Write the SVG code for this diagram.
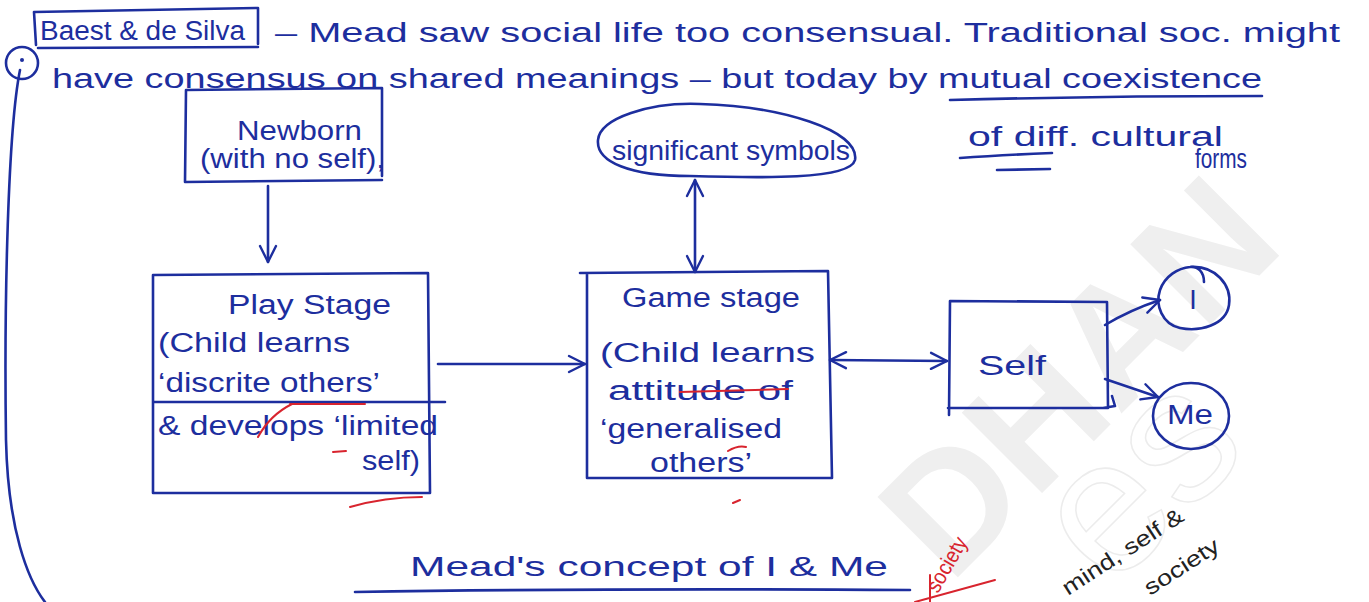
<svg xmlns="http://www.w3.org/2000/svg" width="1369" height="602" viewBox="0 0 1369 602">
  <style>
    .ink { fill: none; stroke: #1d2e9e; stroke-width: 2.6; stroke-linecap: round; stroke-linejoin: round; }
    .red { fill: none; stroke: #d8242e; stroke-width: 2; stroke-linecap: round; }
    .t { font-family: "Liberation Sans", "DejaVu Sans", sans-serif; fill: #1d2e9e; font-size: 27px; }
    .tr { font-family: "Liberation Sans", "DejaVu Sans", sans-serif; fill: #d8242e; font-size: 22px; }
    .tk { font-family: "Liberation Sans", "DejaVu Sans", sans-serif; fill: #222; font-size: 22px; }
    .wm { font-family: "Liberation Sans", "DejaVu Sans", sans-serif; font-weight: bold; fill: #efefef; }
    .wmo { font-family: "Liberation Sans", "DejaVu Sans", sans-serif; fill: none; stroke: #ececec; stroke-width: 1.5; }
  </style>
  <defs>
    <marker id="head" viewBox="0 0 20 20" refX="18" refY="10" markerWidth="20" markerHeight="20" markerUnits="userSpaceOnUse" orient="auto-start-reverse">
      <path d="M2,2 L18,10 L2,18" fill="none" stroke="#1d2e9e" stroke-width="2.4" stroke-linecap="round" stroke-linejoin="round"/>
    </marker>
  </defs>

  <rect width="1369" height="602" fill="#ffffff"/>

  <!-- background watermark -->
  <g id="watermark">
    <text class="wm" x="0" y="0" font-size="165" transform="translate(950,585) rotate(-45)">DHAN</text>
    <text class="wmo" x="0" y="0" font-size="190" transform="translate(1110,592) rotate(-45)">es</text>
  </g>

  <!-- heading note -->
  <g id="heading">
    <path class="ink" d="M34,12 L258,8 L258,44 M34,12 L36,45 M38,48 L258,47"/>
    <text class="t" x="40" y="40" textLength="205" lengthAdjust="spacingAndGlyphs">Baest &amp; de Silva</text>
    <text class="t" x="275" y="42" font-size="28" textLength="1065" lengthAdjust="spacingAndGlyphs">– Mead saw social life too consensual. Traditional soc. might</text>
    <text class="t" x="52" y="88" font-size="28" textLength="1210" lengthAdjust="spacingAndGlyphs">have consensus on shared meanings – but today by mutual coexistence</text>
    <path class="ink" d="M950,100 Q1100,96 1262,96"/>
    <text class="t" x="968" y="146" textLength="255" lengthAdjust="spacingAndGlyphs">of diff. cultural</text>
    <path class="ink" d="M960,158 Q1000,155 1052,153 M997,170 L1050,169"/>
    <text class="t" x="1195" y="168" font-size="14" textLength="52" lengthAdjust="spacingAndGlyphs">forms</text>
  </g>

  <!-- margin bracket -->
  <g id="margin">
    <circle class="ink" cx="22" cy="63" r="16"/>
    <circle cx="22" cy="60" r="2" fill="#1d2e9e"/>
    <path class="ink" d="M20,70 C8,130 4,300 6,440 C8,530 28,580 45,602"/>
  </g>

  <g id="newborn">
    <path class="ink" d="M186,90 L382,88 L382,176 M186,90 L185,182 L382,180"/>
    <text class="t" x="237" y="140" font-size="26" textLength="125" lengthAdjust="spacingAndGlyphs">Newborn</text>
    <text class="t" x="200" y="168" font-size="24" textLength="185" lengthAdjust="spacingAndGlyphs">(with no self),</text>
  </g>

  <g id="play-stage">
    <path class="ink" d="M153,275 L428,273 L430,493 L153,493 Z M153,402 L445,402"/>
    <text class="t" x="228" y="314" font-size="28" textLength="163" lengthAdjust="spacingAndGlyphs">Play Stage</text>
    <text class="t" x="158" y="352" textLength="192" lengthAdjust="spacingAndGlyphs">(Child learns</text>
    <text class="t" x="158" y="392" textLength="222" lengthAdjust="spacingAndGlyphs">‘discrite others’</text>
    <text class="t" x="158" y="435" textLength="280" lengthAdjust="spacingAndGlyphs">&amp; develops ‘limited</text>
    <text class="t" x="362" y="470" textLength="58" lengthAdjust="spacingAndGlyphs">self)</text>
  </g>

  <g id="significant-symbols">
    <path class="ink" d="M700,104 C780,106 860,130 855,160 C850,180 760,178 690,176 C630,176 596,162 598,140 C600,118 650,102 700,104 Z"/>
    <text class="t" x="612" y="160" textLength="238" lengthAdjust="spacingAndGlyphs">significant symbols</text>
  </g>

  <g id="game-stage">
    <path class="ink" d="M580,273 L828,271 L832,478 L587,478 L587,273"/>
    <text class="t" x="622" y="307" font-size="28" textLength="178" lengthAdjust="spacingAndGlyphs">Game stage</text>
    <text class="t" x="600" y="362" textLength="215" lengthAdjust="spacingAndGlyphs">(Child learns</text>
    <text class="t" x="608" y="400" textLength="185" lengthAdjust="spacingAndGlyphs">attitude of</text>
    <text class="t" x="600" y="438" textLength="182" lengthAdjust="spacingAndGlyphs">‘generalised</text>
    <text class="t" x="650" y="472" textLength="102" lengthAdjust="spacingAndGlyphs">others’</text>
  </g>

  <g id="self">
    <path class="ink" d="M950,301 L1107,302 L1108,408 L948,408 M950,301 L949,415 M1103,408 L1115,406 L1112,396"/>
    <text class="t" x="978" y="375" font-size="30" textLength="68" lengthAdjust="spacingAndGlyphs">Self</text>
  </g>

  <g id="i-node">
    <path class="ink" d="M1190,267 C1215,265 1232,285 1229,305 C1226,325 1200,332 1180,328 C1162,324 1155,305 1160,290 C1165,276 1178,268 1190,267 C1198,266 1204,272 1204,282"/>
    <text class="t" x="1193" y="309" font-size="26" text-anchor="middle">I</text>
  </g>

  <g id="me-node">
    <ellipse class="ink" cx="1191" cy="416" rx="38" ry="33"/>
    <text class="t" x="1190" y="424" font-size="26" text-anchor="middle" textLength="46" lengthAdjust="spacingAndGlyphs">Me</text>
  </g>

  <!-- connectors -->
  <g id="connectors">
    <path class="ink" d="M268,186 L268,262" marker-end="url(#head)"/>
    <path class="ink" d="M438,364 L585,364" marker-end="url(#head)"/>
    <path class="ink" d="M695,180 L695,272" marker-start="url(#head)" marker-end="url(#head)"/>
    <path class="ink" d="M830,360 L947,361" marker-start="url(#head)" marker-end="url(#head)"/>
    <path class="ink" d="M1105,325 Q1130,310 1160,300" marker-end="url(#head)"/>
    <path class="ink" d="M1105,379 L1158,397" marker-end="url(#head)"/>
  </g>

  <!-- title -->
  <g id="title">
    <text class="t" x="410" y="576" font-size="30" textLength="478" lengthAdjust="spacingAndGlyphs">Mead's concept of I &amp; Me</text>
    <path class="ink" d="M355,592 Q600,588 910,590"/>
  </g>

  <!-- margin annotations -->
  <g id="annotations">
    <path class="red" d="M680,392 L788,389 M290,404 L365,404 M258,437 Q270,415 292,404 M333,452 L346,451 M350,507 Q385,497 422,497 M728,451 Q738,445 746,447 M733,503 L740,500"/>
    <text class="tr" x="0" y="0" textLength="60" lengthAdjust="spacingAndGlyphs" transform="translate(938,594) rotate(-60)">society</text>
    <path class="red" d="M915,602 L995,580 M930,575 L930,602"/>
    <text class="tk" x="0" y="0" textLength="140" lengthAdjust="spacingAndGlyphs" transform="translate(1068,596) rotate(-33)">mind, self &amp;</text>
    <text class="tk" x="0" y="0" textLength="85" lengthAdjust="spacingAndGlyphs" transform="translate(1150,596) rotate(-33)">society</text>
  </g>
</svg>
